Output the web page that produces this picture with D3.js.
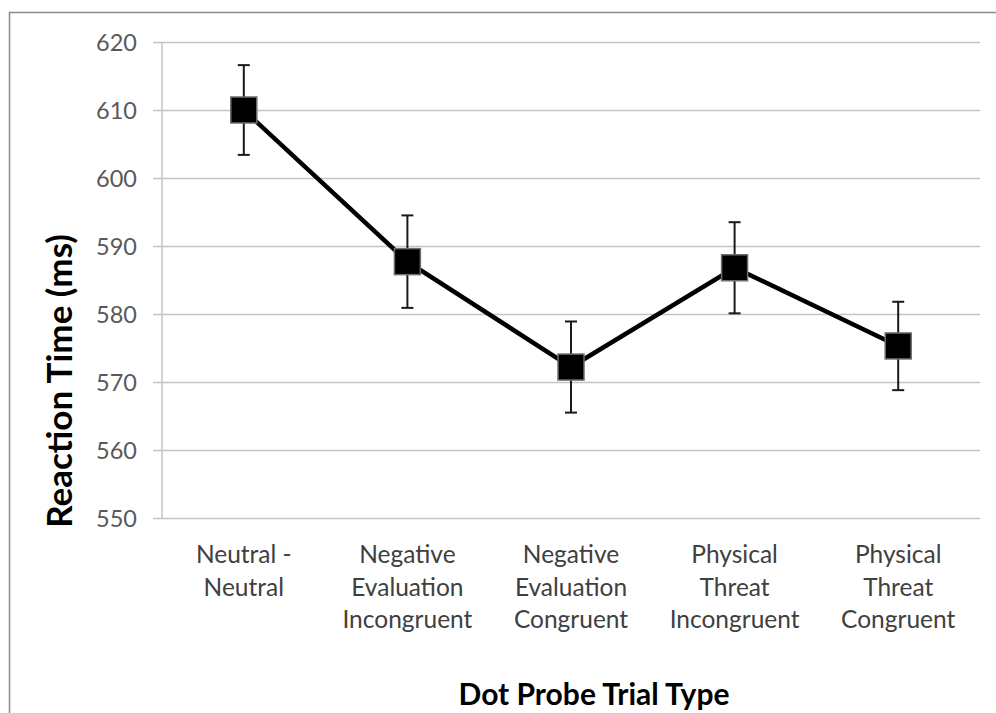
<!DOCTYPE html>
<html>
<head>
<meta charset="utf-8">
<script src="https://cdn.jsdelivr.net/npm/d3@7"></script>
<style>
  body { margin: 0; background: #fff; }
  svg text { font-family: Lato, "Open Sans", sans-serif; }
</style>
</head>
<body>
<div id="chart"></div>
<script>
// chart data
const categories = [
    ["Neutral -", "Neutral"],
    ["Negative", "Evaluation", "Incongruent"],
    ["Negative", "Evaluation", "Congruent"],
    ["Physical", "Threat", "Incongruent"],
    ["Physical", "Threat", "Congruent"]
];
const meanRT = [610, 587.7, 572.2, 586.8, 575.3];
const errRT = [6.6, 6.8, 6.7, 6.7, 6.5];
const yTicks = [550, 560, 570, 580, 590, 600, 610, 620];

const width = 996, height = 713;
const plot = { left: 162, right: 980, top: 42, bottom: 518 };

const svg = d3.select("#chart").append("svg")
    .attr("width", width)
    .attr("height", height);

// outer frame
svg.append("rect")
    .attr("x", 9.5).attr("y", 12.5)
    .attr("width", 1000).attr("height", 720)
    .attr("fill", "none")
    .attr("stroke", "#8c8c8c")
    .attr("stroke-width", 1.5);

const x = d3.scaleBand()
    .domain(d3.range(categories.length))
    .range([plot.left, plot.right]);

const y = d3.scaleLinear()
    .domain([550, 620])
    .range([plot.bottom, plot.top]);

// gridlines + y labels
const yAxis = svg.append("g")
    .attr("transform", `translate(${plot.left},0)`)
    .call(d3.axisLeft(y).tickValues(yTicks).tickSize(-(plot.right - plot.left)).tickPadding(25));
yAxis.select(".domain").remove();
yAxis.selectAll(".tick line")
    .attr("x1", -9)
    .attr("stroke", "#c4c4c4")
    .attr("stroke-width", 1.5);
yAxis.selectAll(".tick text")
    .attr("fill", "#595959")
    .style("font-size", "23.5px")
    .attr("dy", "0.35em");

// vertical axis line
svg.append("line")
    .attr("x1", plot.left).attr("x2", plot.left)
    .attr("y1", plot.top).attr("y2", plot.bottom)
    .attr("stroke", "#c4c4c4")
    .attr("stroke-width", 1.5);

// category labels
const cx = i => x(i) + x.bandwidth() / 2;
const catG = svg.append("g");
categories.forEach((lines, i) => {
    const t = catG.append("text")
        .attr("x", cx(i))
        .attr("y", 563)
        .attr("text-anchor", "middle")
        .attr("fill", "#404040")
        .style("font-size", "24.5px");
    lines.forEach((l, j) => {
        t.append("tspan")
            .attr("x", cx(i))
            .attr("dy", j === 0 ? 0 : 32.5)
            .text(l);
    });
});

// error bars
const err = svg.append("g");
meanRT.forEach((m, i) => {
    const e = errRT[i];
    err.append("line")
        .attr("x1", cx(i)).attr("x2", cx(i))
        .attr("y1", y(m + e)).attr("y2", y(m - e))
        .attr("stroke", "#1a1a1a").attr("stroke-width", 2);
    [m + e, m - e].forEach(v => {
        err.append("line")
            .attr("x1", cx(i) - 6).attr("x2", cx(i) + 6)
            .attr("y1", y(v)).attr("y2", y(v))
            .attr("stroke", "#1a1a1a").attr("stroke-width", 2);
    });
});

// line
const line = d3.line()
    .x((d, i) => cx(i))
    .y(d => y(d));

svg.append("path")
    .datum(meanRT)
    .attr("d", line)
    .attr("fill", "none")
    .attr("stroke", "#000")
    .attr("stroke-width", 4.5);

// markers
const ms = 26;
svg.append("g").selectAll("rect")
    .data(meanRT)
    .join("rect")
    .attr("x", (d, i) => cx(i) - ms / 2)
    .attr("y", d => y(d) - ms / 2)
    .attr("width", ms)
    .attr("height", ms)
    .attr("fill", "#000")
    .attr("stroke", "#6e6e6e")
    .attr("stroke-width", 1.5);

// axis titles
svg.append("text")
    .attr("x", 594)
    .attr("y", 705)
    .attr("text-anchor", "middle")
    .attr("fill", "#000")
    .style("font-size", "30px")
    .style("font-weight", "bold")
    .text("Dot Probe Trial Type");

svg.append("text")
    .attr("transform", "translate(72,381) rotate(-90)")
    .attr("text-anchor", "middle")
    .attr("fill", "#000")
    .style("font-size", "35px")
    .style("font-weight", "bold")
    .text("Reaction Time (ms)");
</script>
</body>
</html>
